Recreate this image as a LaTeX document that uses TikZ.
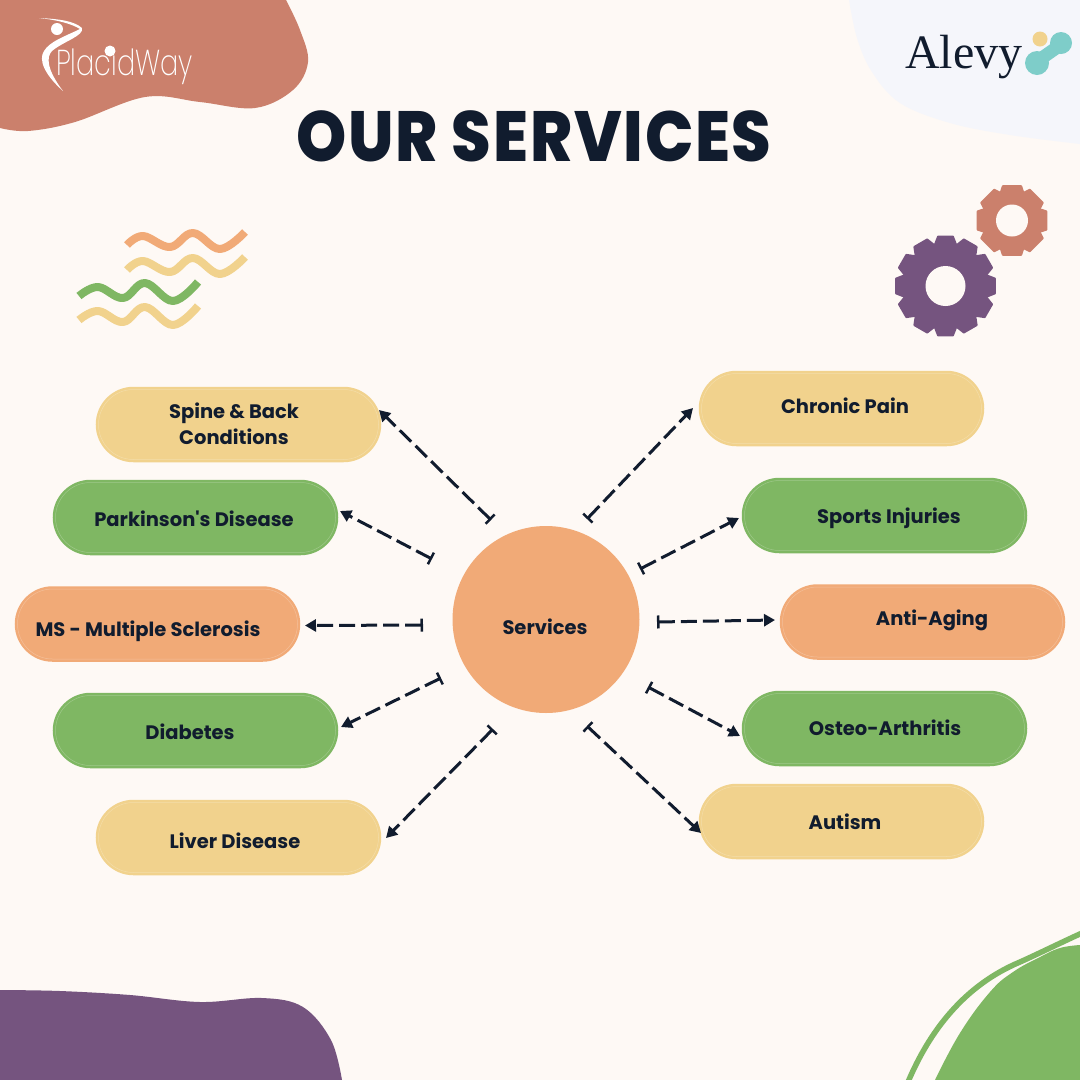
\documentclass[tikz,border=0pt]{standalone}
\usepackage{fontspec}
\setmainfont{Poppins}[UprightFont=* SemiBold,BoldFont=* ExtraBold]
\newfontfamily\lf{Poppins}[UprightFont=* Bold]
\newfontfamily\ttl{Poppins}[UprightFont=* ExtraBold,FakeStretch=0.9,LetterSpace=2.5]
\newfontfamily\plc{Poppins}[UprightFont=* ExtraLight,FakeStretch=0.75]
\newfontfamily\alv{Liberation Serif}
\usetikzlibrary{arrows.meta,shapes.misc}
\definecolor{bg}{HTML}{FEF9F5}
\definecolor{terra}{HTML}{CB806C}
\definecolor{ylw}{HTML}{F1D28D}
\definecolor{grn}{HTML}{7FB763}
\definecolor{org}{HTML}{F1AA77}
\definecolor{purp}{HTML}{75547F}
\definecolor{navy}{HTML}{111C2E}
\definecolor{pale}{HTML}{F5F6FB}
\definecolor{teal}{HTML}{7ECDC9}
\tikzset{
 pill/.style={rounded rectangle,minimum width=280pt,minimum height=70pt,inner sep=0pt,fill=#1,draw=#1!75!white,line width=.5pt,preaction={draw=#1,line width=5.5pt}},
 lab/.style={text=navy,font=\lf\fontsize{19.5}{26}\selectfont,align=center,inner sep=0pt},
 link/.style={draw=navy,line width=3pt,dash pattern=on 16pt off 6pt,{Bar[width=13pt,line width=2.5pt]}-{Triangle[length=11pt,width=12pt]}},
 wave/.style={line width=8pt,line join=round},
}
\newcommand{\gearshape}[9]{% x y root outer hole teeth basehalf tophalf colour
 \begin{scope}[shift={(#1,#2)}]
 \fill[#9] (0,0) circle (#3);
 \foreach \i in {1,...,#6}{
  \pgfmathsetmacro{\a}{90+360*\i/#6}
  \filldraw[#9,line width=2pt,line join=round] (\a-#7:#3-1) -- (\a-#8:#4-1) -- (\a+#8:#4-1) -- (\a+#7:#3-1) -- cycle;
 }
 \fill[bg] (0,0) circle (#5);
 \end{scope}
}
\begin{document}
\begin{tikzpicture}[x=1pt,y=-1pt]
\useasboundingbox (0,0) rectangle (1080,1080);
\fill[bg] (0,0) rectangle (1080,1080);
% corner blobs
\fill[terra] (0,0) -- (0,128) -- plot[smooth,tension=.6] coordinates {(0,128) (28,131) (75,122) (145,97) (200,102) (255,108) (293,90) (308,62) (300,30) (286,0)} -- cycle;
\fill[pale] (1080,0) -- (849,0) -- plot[smooth,tension=.6] coordinates {(849,0) (857,38) (872,72) (900,103) (950,123) (1010,135) (1080,144)} -- cycle;
\fill[purp] (0,1080) -- (0,990) -- plot[smooth,tension=.6] coordinates {(0,990) (60,991) (130,995) (200,1002) (262,998) (303,1007) (331,1040) (342,1080)} -- cycle;
\fill[grn] (1080,1080) -- (935,1080) -- plot[smooth,tension=.7] coordinates {(935,1080) (960,1033) (990,992) (1013,972) (1040,957) (1060,948) (1080,945)} -- cycle;
\draw[grn,line width=5.5pt] (908,1082) .. controls (930,1030) and (965,985) .. (1020,962) .. controls (1040,953) and (1060,943) .. (1082,933);
% logos
\fill[white] (57,29) circle (6);
\fill[white] (39,18) .. controls (60,19) and (74,21) .. (82,28) .. controls (84,36) and (64,41) .. (52,51) .. controls (46,57) and (47,70) .. (63,91) .. controls (45,75) and (38,60) .. (44,51) .. controls (50,41) and (66,36) .. (80,29) .. controls (72,24) and (58,20) .. (39,18) -- cycle;
\node[text=white,font=\plc\fontsize{36}{36}\selectfont,anchor=base west,inner sep=0pt] (placid) at (56,75) {PlacidWay};
\fill[white] (110,51) circle (5.5);
\node[text=navy,font=\alv\fontsize{48}{48}\selectfont,anchor=base west,inner sep=0pt] (alevy) at (905,68) {Alevy};
\fill[ylw] (1040,39) circle (7.5);
\fill[teal] (1061,43) circle (11) (1037,63) circle (12);
\draw[teal,line width=13pt] (1059,46) -- (1039,60);
% title
\node[text=navy,font=\ttl\fontsize{71}{71}\selectfont,anchor=center,inner sep=0pt] (title) at (534,136) {OUR SERVICES};
% waves
\draw[wave,org] plot[smooth,tension=.65] coordinates {(127,245) (143,236) (170,247) (193,233) (220,249) (245,232)};
\draw[wave,ylw] plot[smooth,tension=.65] coordinates {(127,270) (143,261) (170,272) (193,258) (220,274) (245,257)};
\draw[wave,grn] plot[smooth,tension=.65] coordinates {(79,296) (98,287) (123,298) (145,283) (173,301) (198,282)};
\draw[wave,ylw] plot[smooth,tension=.65] coordinates {(79,320) (98,311) (123,322) (145,307) (173,325) (198,306)};
% gears
\gearshape{945.5}{286}{43}{51}{20}{12}{15}{8.5}{purp}
\gearshape{1012}{220.5}{31}{36.5}{16}{8}{22}{15}{terra}
% central circle
\node[circle,fill=org,minimum size=187pt,inner sep=0pt] (hub) at (546,619.5) {};
\node[lab] (hublab) at (545,627) {Services};
% pills
\node[pill=ylw] (spine) at (238.5,424.5) {};
\node[pill=grn] (park) at (195.5,517.5) {};
\node[pill=org] (ms) at (157.5,624) {};
\node[pill=grn] (diab) at (195.5,730.5) {};
\node[pill=ylw] (liver) at (238.5,837.5) {};
\node[pill=ylw] (chronic) at (841.5,408.5) {};
\node[pill=grn] (sports) at (884.5,515.5) {};
\node[pill=org] (anti) at (922.5,622) {};
\node[pill=grn] (osteo) at (884.5,728.5) {};
\node[pill=ylw] (autism) at (841.5,821.5) {};
% labels
\node[lab] (tspine) at (234,424) {Spine \& Back\\Conditions};
\node[lab] (tpark) at (194,519) {Parkinson's Disease};
\node[lab] (tms) at (148,631) {MS - Multiple Sclerosis};
\node[lab] (tdiab) at (190,732) {Diabetes};
\node[lab] (tliver) at (235,841) {Liver Disease};
\node[lab] (tchronic) at (845,406) {Chronic Pain};
\node[lab] (tsports) at (889,518) {Sports Injuries};
\node[lab] (tanti) at (932,620) {Anti-Aging};
\node[lab] (tosteo) at (885,728) {Osteo-Arthritis};
\node[lab] (tautism) at (845,822) {Autism};
% connector ends
\coordinate (b1) at (491,520); \coordinate (e1) at (379,410);
\coordinate (b2) at (432,559); \coordinate (e2) at (340,511);
\coordinate (b3) at (423,625); \coordinate (e3) at (305,625.5);
\coordinate (b4) at (441,678); \coordinate (e4) at (341,727);
\coordinate (b5) at (493,729); \coordinate (e5) at (386,838);
\coordinate (b6) at (587,519); \coordinate (e6) at (693,408);
\coordinate (b7) at (640,569); \coordinate (e7) at (739,518);
\coordinate (b8) at (657,622); \coordinate (e8) at (775,620);
\coordinate (b9) at (648,687); \coordinate (e9) at (740,736);
\coordinate (b10) at (587,726); \coordinate (e10) at (701,833);
\foreach \n in {1,...,10}{\draw[link] (b\n) -- (e\n);}
\end{tikzpicture}
\end{document}
